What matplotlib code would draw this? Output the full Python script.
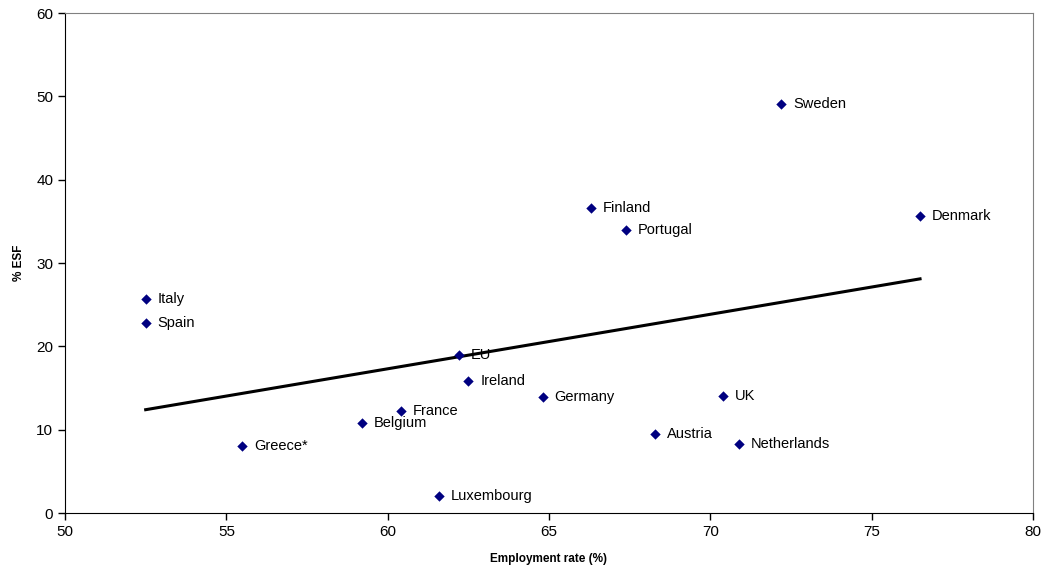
import matplotlib
matplotlib.use("Agg")
import matplotlib.pyplot as plt

plt.rcParams['font.family'] = ['Liberation Sans', 'DejaVu Sans']

# 各国数据：就业率(%) 和 ESF占比(%)
countries = ['Sweden', 'Denmark', 'Finland', 'Portugal', 'Italy', 'Spain', 'EU', 'Ireland',
             'Germany', 'UK', 'France', 'Belgium', 'Austria', 'Netherlands', 'Greece*', 'Luxembourg']
employment = [72.2, 76.5, 66.3, 67.4, 52.5, 52.5, 62.2, 62.5,
              64.8, 70.4, 60.4, 59.2, 68.3, 70.9, 55.5, 61.6]
esf = [49.1, 35.7, 36.6, 34.0, 25.7, 22.8, 19.0, 15.9,
       13.9, 14.1, 12.2, 10.8, 9.5, 8.3, 8.1, 2.1]

# 趋势线端点
trend_x = [52.5, 76.5]
trend_y = [12.4, 28.1]

fig = plt.figure(figsize=(10.47, 5.81), dpi=100)
ax = fig.add_axes([0.0621, 0.117, 0.9245, 0.8606])

ax.scatter(employment, esf, marker='D', s=28, color='#000080', zorder=3, linewidths=0)
for name, x, y in zip(countries, employment, esf):
    ax.annotate(name, (x, y), xytext=(8.5, 0), textcoords='offset points',
                va='center', ha='left', fontsize=10.5)

ax.plot(trend_x, trend_y, color='black', linewidth=2.2, zorder=2)

ax.set_xlim(50, 80)
ax.set_ylim(0, 60)
ax.set_xticks(range(50, 81, 5))
ax.set_yticks(range(0, 61, 10))
ax.tick_params(labelsize=11, length=5, direction='out', width=1)
ax.set_xlabel('Employment rate (%)', fontsize=8.5, fontweight='bold', labelpad=10)
ax.set_ylabel('% ESF', fontsize=8.5, fontweight='bold', labelpad=8)

ax.spines['top'].set_color('#808080')
ax.spines['right'].set_color('#808080')

fig.savefig('out.png', dpi=100)
